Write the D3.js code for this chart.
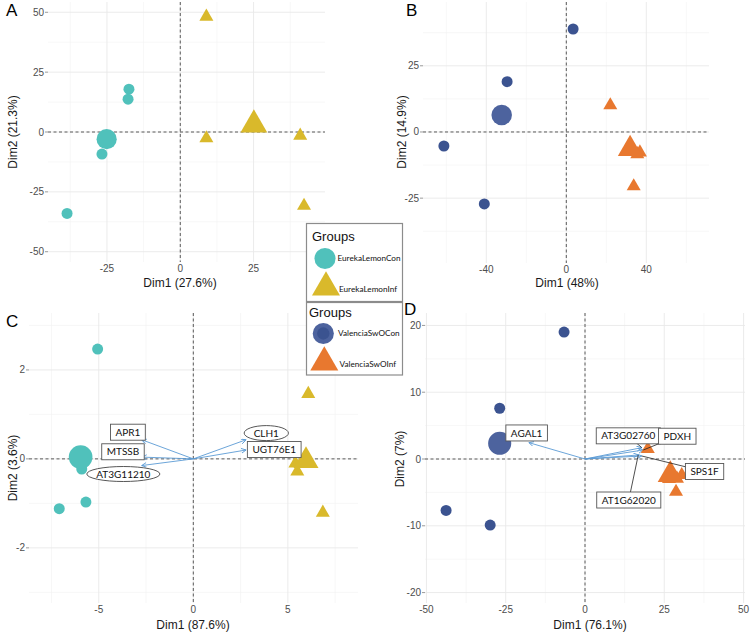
<!DOCTYPE html>
<html>
<head>
<meta charset="utf-8">
<script src="https://cdn.jsdelivr.net/npm/d3@7.9.0/dist/d3.min.js"></script>
<style>
  body { margin: 0; background: #fff; }
  svg { display: block; font-family: "Liberation Sans", Arial, sans-serif; }
  .tick-label { font-size: 10px; fill: #4d4d4d; }
  .axis-title { font-size: 12px; fill: #1a1a1a; }
  .tag { font-size: 17px; fill: #000; }
  .var-label { font-family: Lato, "Open Sans", sans-serif; font-size: 10px; fill: #111; }
  .legend-title { font-size: 13px; fill: #111; }
  .legend-label { font-family: Lato, "Open Sans", sans-serif; font-size: 8.2px; fill: #111; }
</style>
</head>
<body>
<svg id="chart" width="750" height="634"></svg>
<script>
// ---- data ----
const groupsLemon    = ["EurekaLemonCon", "EurekaLemonInf"];
const groupsValencia = ["ValenciaSwOCon", "ValenciaSwOInf"];

// A: Eureka lemon, individuals
const aConDim1  = [-17.5, -17.8, -26.7, -38.6, -24.9];
const aConDim2  = [17.9, 13.7, -9.2, -34.0, -3.4];
const aInfDim1  = [8.9, 8.9, 40.9, 42.2, 24.6];
const aInfDim2  = [48.2, -2.6, -1.5, -30.8, 1.7];
const aMeanDim1 = [-25.1, 25.1];
const aMeanDim2 = [-3.0, 3.0];

// B: Valencia sweet orange, individuals
const bConDim1  = [3.4, -29.6, -61.2, -41.0, -33.1];
const bConDim2  = [38.9, 19.0, -5.3, -27.2, 6.6];
const bInfDim1  = [22.0, 36.8, 33.7, 31.5, 35.5];
const bInfDim2  = [10.1, -7.7, -20.5, -5.5, -8.4];
const bMeanDim1 = [-32.3, 31.9];
const bMeanDim2 = [6.4, -6.4];

// C: Eureka lemon, selected genes
const cConDim1  = [-5.06, -5.9, -5.68, -7.09, -6.07];
const cConDim2  = [2.47, -0.23, -0.97, -1.12, 0.05];
const cInfDim1  = [6.08, 5.4, 5.5, 6.85, 5.97];
const cInfDim2  = [1.46, -0.1, -0.28, -1.21, -0.07];
const cMeanDim1 = [-5.96, 5.96];
const cMeanDim2 = [0.04, -0.04];
const cVarNames  = ["APR1", "MTSSB", "AT3G11210", "CLH1", "UGT76E1"];
const cVarDim1   = [-2.73, -2.73, -2.73, 2.79, 2.79];
const cVarDim2   = [0.43, 0.04, -0.15, 0.43, 0.2];
const cLabelDim1 = [-3.46, -3.72, -3.70, 3.86, 4.28];
const cLabelDim2 = [0.60, 0.16, -0.34, 0.58, 0.21];
const cLabelShape = ["box", "box", "ellipse", "ellipse", "box"];

// D: Valencia sweet orange, selected genes
const dConDim1  = [-6.6, -26.9, -43.8, -29.9, -27.3];
const dConDim2  = [19.0, 7.6, -7.7, -9.9, 2.75];
const dInfDim1  = [19.8, 30.5, 28.7, 26.5, 29.0];
const dInfDim2  = [1.5, -2.4, -4.9, -3.0, -2.95];
const dMeanDim1 = [-26.9, 26.9];
const dMeanDim2 = [2.35, -2.35];
const dVarNames  = ["AGAL1", "AT3G02760", "PDXH", "AT1G62020", "SPS1F"];
const dVarDim1   = [-17.7, 17.9, 18.4, 16.8, 17.9];
const dVarDim2   = [2.45, 1.7, 1.35, 0.6, 0.45];
const dLabelDim1 = [-18.4, 13.65, 29.1, 13.8, 37.7];
const dLabelDim2 = [3.9, 3.47, 3.41, -6.14, -1.87];
const dLabelShape = ["box", "box", "box", "box", "box"];

// ---- styling ----
const colCyan = "#50c1bb", colYellow = "#d9b92b", colNavy = "#3b5390", colNavyMean = "#4d639e", colOrange = "#e8782f";
const zip = (a, b) => a.map((v, i) => [v, b[i]]);

const svg = d3.select("#chart");
svg.append("rect").attr("width", 750).attr("height", 634).attr("fill", "#fff");

svg.append("defs").append("marker")
  .attr("id", "arrowhead")
  .attr("markerUnits", "userSpaceOnUse")
  .attr("markerWidth", 7).attr("markerHeight", 7)
  .attr("refX", 5).attr("refY", 2.5)
  .attr("orient", "auto")
  .append("path")
  .attr("d", "M0,0 L5,2.5 L0,5")
  .attr("fill", "none")
  .attr("stroke", "#5b9bd5")
  .attr("stroke-width", 0.9);

function minorTicks(ticks, domain) {
  const step = ticks[1] - ticks[0];
  return d3.range(ticks[0] - step * 2.5, domain[1], step).filter(v => v > domain[0]);
}

function drawPanel(p) {
  const g = svg.append("g");
  const x = d3.scaleLinear().domain(p.xDomain).range([p.left, p.right]);
  const y = d3.scaleLinear().domain(p.yDomain).range([p.bottom, p.top]);

  // grid
  g.selectAll(null).data(minorTicks(p.xTicks, p.xDomain)).enter().append("line")
    .attr("x1", d => x(d)).attr("x2", d => x(d)).attr("y1", p.top).attr("y2", p.bottom)
    .attr("stroke", "#f2f2f2").attr("stroke-width", 0.6);
  g.selectAll(null).data(minorTicks(p.yTicks, p.yDomain)).enter().append("line")
    .attr("y1", d => y(d)).attr("y2", d => y(d)).attr("x1", p.left).attr("x2", p.right)
    .attr("stroke", "#f2f2f2").attr("stroke-width", 0.6);
  g.selectAll(null).data(p.xTicks).enter().append("line")
    .attr("x1", d => x(d)).attr("x2", d => x(d)).attr("y1", p.top).attr("y2", p.bottom)
    .attr("stroke", "#e9e9e9").attr("stroke-width", 0.9);
  g.selectAll(null).data(p.yTicks).enter().append("line")
    .attr("y1", d => y(d)).attr("y2", d => y(d)).attr("x1", p.left).attr("x2", p.right)
    .attr("stroke", "#e9e9e9").attr("stroke-width", 0.9);

  // ticks + labels
  g.selectAll(null).data(p.xTicks).enter().append("text")
    .attr("class", "tick-label")
    .attr("x", d => x(d)).attr("y", p.bottom + 10)
    .attr("text-anchor", "middle").text(d => d);
  g.selectAll(null).data(p.yTicks).enter().append("line")
    .attr("x1", p.left - 3).attr("x2", p.left).attr("y1", d => y(d)).attr("y2", d => y(d))
    .attr("stroke", "#555").attr("stroke-width", 0.6);
  g.selectAll(null).data(p.yTicks).enter().append("text")
    .attr("class", "tick-label")
    .attr("x", p.left - 4).attr("y", d => y(d)).attr("dy", "0.35em")
    .attr("text-anchor", "end").text(d => d);

  // titles
  g.append("text").attr("class", "axis-title")
    .attr("x", p.xTitleX).attr("y", p.xTitleY)
    .attr("text-anchor", "middle").text(p.xTitle);
  g.append("text").attr("class", "axis-title")
    .attr("transform", `translate(${p.yTitleX},${p.yTitleY}) rotate(-90)`)
    .attr("dy", "0.35em")
    .attr("text-anchor", "middle").text(p.yTitle);
  g.append("text").attr("class", "tag")
    .attr("x", p.tagX).attr("y", p.tagY).text(p.tag);

  // zero lines
  g.append("line").attr("x1", x(0)).attr("x2", x(0)).attr("y1", p.top).attr("y2", p.bottom)
    .attr("stroke", "#333").attr("stroke-width", 0.8).attr("stroke-dasharray", "3,2.5");
  g.append("line").attr("y1", y(0)).attr("y2", y(0)).attr("x1", p.left).attr("x2", p.right)
    .attr("stroke", "#333").attr("stroke-width", 0.8).attr("stroke-dasharray", "3,2.5");

  // variable arrows
  if (p.vars) {
    const v = p.vars;
    const rows = v.names.map((n, i) => ({
      name: n, vx: v.dim1[i], vy: v.dim2[i], lx: v.lx[i], ly: v.ly[i], shape: v.shape[i]
    }));
    g.selectAll(null).data(rows).enter().append("line")
      .attr("x1", x(0)).attr("y1", y(0))
      .attr("x2", d => x(d.vx)).attr("y2", d => y(d.vy))
      .attr("stroke", "#5b9bd5").attr("stroke-width", 0.9)
      .attr("marker-end", "url(#arrowhead)");
    p.varRows = rows;
  }

  // individuals
  const pts = (xs, ys, type, color, size) => {
    g.selectAll(null).data(zip(xs, ys)).enter().append("path")
      .attr("d", d3.symbol().type(type).size(size))
      .attr("transform", d => `translate(${x(d[0])},${y(d[1])})`)
      .attr("fill", color);
  };
  pts(p.con[0], p.con[1], d3.symbolCircle, p.colors[0], 95);
  pts(p.inf[0], p.inf[1], d3.symbolTriangle, p.colors[1], 85);
  pts([p.mean[0][0]], [p.mean[1][0]], d3.symbolCircle, p.meanColors[0], p.meanSize[0]);
  pts([p.mean[0][1]], [p.mean[1][1]], d3.symbolTriangle, p.meanColors[1], p.meanSize[1]);

  // variable labels
  if (p.varRows) {
    const lg = g.append("g");
    p.varRows.forEach(d => {
      const cx = x(d.lx), cy = y(d.ly);
      const grp = lg.append("g");
      const t = grp.append("text").attr("class", "var-label")
        .attr("x", cx).attr("y", cy).attr("dy", "0.36em")
        .attr("text-anchor", "middle").text(d.name);
      const w = t.node().getComputedTextLength();
      const bx0 = cx - w / 2 - 5, bx1 = cx + w / 2 + 5, by0 = cy - 8, by1 = cy + 8;
      const ex = x(d.vx), ey = y(d.vy);
      const gap = Math.max(bx0 - ex, ex - bx1, by0 - ey, ey - by1);
      if (p.connectors && gap > 2) {
        grp.insert("line", "text")
          .attr("x1", ex).attr("y1", ey).attr("x2", cx).attr("y2", cy)
          .attr("stroke", "#222").attr("stroke-width", 0.8);
      }
      if (d.shape === "ellipse") {
        grp.insert("ellipse", "text")
          .attr("cx", cx).attr("cy", cy).attr("rx", w / 2 + 9.5).attr("ry", 7.5)
          .attr("fill", "#fff").attr("stroke", "#444").attr("stroke-width", 0.9);
      } else {
        grp.insert("rect", "text")
          .attr("x", bx0).attr("y", by0).attr("width", bx1 - bx0).attr("height", by1 - by0)
          .attr("fill", "#fff").attr("stroke", "#555").attr("stroke-width", 0.9);
      }
    });
  }
}

drawPanel({
  tag: "A", tagX: 6, tagY: 16,
  left: 48, right: 325, top: 2, bottom: 262,
  xDomain: [-45.1, 49.35], yDomain: [-54.3, 54.3],
  xTicks: [-25, 0, 25], yTicks: [-50, -25, 0, 25, 50],
  xTitle: "Dim1 (27.6%)", yTitle: "Dim2 (21.3%)",
  xTitleX: 180, xTitleY: 287, yTitleX: 13, yTitleY: 132,
  con: [aConDim1, aConDim2], inf: [aInfDim1, aInfDim2], mean: [aMeanDim1, aMeanDim2],
  colors: [colCyan, colYellow], meanColors: [colCyan, colYellow], meanSize: [320, 310]
});

drawPanel({
  tag: "B", tagX: 406, tagY: 16,
  left: 423, right: 709, top: 2, bottom: 263,
  xDomain: [-71.65, 71.35], yDomain: [-49.5, 49.1],
  xTicks: [-40, 0, 40], yTicks: [-25, 0, 25],
  xTitle: "Dim1 (48%)", yTitle: "Dim2 (14.9%)",
  xTitleX: 567, xTitleY: 287, yTitleX: 402, yTitleY: 132,
  con: [bConDim1, bConDim2], inf: [bInfDim1, bInfDim2], mean: [bMeanDim1, bMeanDim2],
  colors: [colNavy, colOrange], meanColors: [colNavyMean, colOrange], meanSize: [330, 260]
});

drawPanel({
  tag: "C", tagX: 6, tagY: 327,
  left: 29, right: 358, top: 313, bottom: 603,
  xDomain: [-8.69, 8.71], yDomain: [-3.24, 3.28],
  xTicks: [-5, 0, 5], yTicks: [-2, 0, 2],
  xTitle: "Dim1 (87.6%)", yTitle: "Dim2 (3.6%)",
  xTitleX: 193, xTitleY: 629, yTitleX: 13, yTitleY: 468,
  con: [cConDim1, cConDim2], inf: [cInfDim1, cInfDim2], mean: [cMeanDim1, cMeanDim2],
  colors: [colCyan, colYellow], meanColors: [colCyan, colYellow], meanSize: [440, 270],
  vars: { names: cVarNames, dim1: cVarDim1, dim2: cVarDim2, lx: cLabelDim1, ly: cLabelDim2, shape: cLabelShape },
  connectors: false
});

drawPanel({
  tag: "D", tagX: 404, tagY: 315,
  left: 425, right: 745, top: 313, bottom: 603,
  xDomain: [-50.45, 50.45], yDomain: [-21.56, 21.86],
  xTicks: [-50, -25, 0, 25, 50], yTicks: [-20, -10, 0, 10, 20],
  xTitle: "Dim1 (76.1%)", yTitle: "Dim2 (7%)",
  xTitleX: 590, xTitleY: 629, yTitleX: 400, yTitleY: 459,
  con: [dConDim1, dConDim2], inf: [dInfDim1, dInfDim2], mean: [dMeanDim1, dMeanDim2],
  colors: [colNavy, colOrange], meanColors: [colNavyMean, colOrange], meanSize: [420, 275],
  vars: { names: dVarNames, dim1: dVarDim1, dim2: dVarDim2, lx: dLabelDim1, ly: dLabelDim2, shape: dLabelShape },
  connectors: true
});

// ---- legends (float between the panels) ----
function drawLegend(top, height, names, colors, inner, rows) {
  const g = svg.append("g");
  g.append("rect").attr("x", 306.5).attr("y", top).attr("width", 96).attr("height", height)
    .attr("fill", "#fff").attr("stroke", "#8c8c8c").attr("stroke-width", 1.2);
  g.append("text").attr("class", "legend-title").attr("x", rows.titleX).attr("y", top + rows.titleDy).text("Groups");
  g.append("path").attr("d", d3.symbol().type(d3.symbolCircle).size(350))
    .attr("transform", `translate(${rows.symX},${top + rows.row1})`).attr("fill", colors[0]);
  if (inner) {
    g.append("path").attr("d", d3.symbol().type(d3.symbolCircle).size(120))
      .attr("transform", `translate(${rows.symX},${top + rows.row1})`).attr("fill", inner);
  }
  g.append("path").attr("d", d3.symbol().type(d3.symbolTriangle).size(340))
    .attr("transform", `translate(${rows.symX + 1},${top + rows.row2})`).attr("fill", colors[1]);
  g.selectAll(null).data(names).enter().append("text")
    .attr("class", "legend-label")
    .attr("x", (d, i) => rows.textX + i * 1.5)
    .attr("y", (d, i) => top + (i === 0 ? rows.row1 : rows.row2 + 2))
    .attr("dy", "0.35em")
    .text(d => d);
}
drawLegend(223.5, 78, groupsLemon, [colCyan, colYellow], null,
  { titleX: 312, titleDy: 17, symX: 325, row1: 35, row2: 64, textX: 337.5 });
drawLegend(302.5, 72.5, groupsValencia, [colNavyMean, colOrange], colNavy,
  { titleX: 309, titleDy: 14, symX: 323.3, row1: 31, row2: 60, textX: 338 });
</script>
</body>
</html>
